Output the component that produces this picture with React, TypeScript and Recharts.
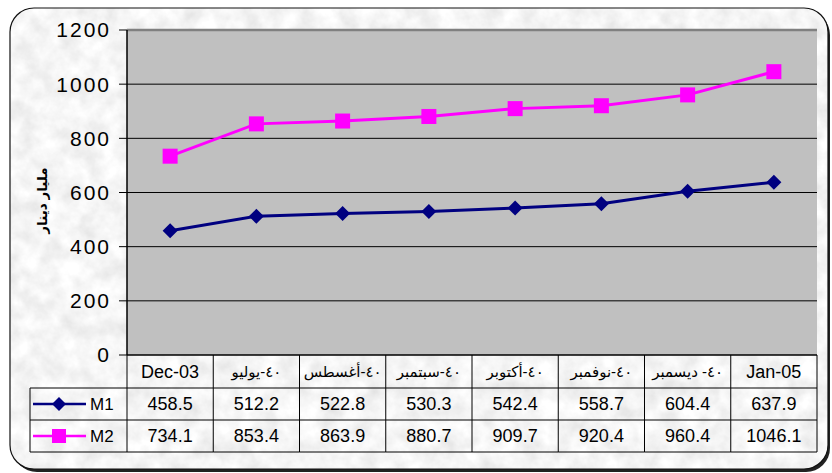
import { LineChart, Line, XAxis, YAxis, CartesianGrid, ReferenceLine } from "recharts";

// category labels (Arabic months, year 04); drawn right-to-left as in the source
const categories = [
  "Dec-03",
  "٠٤-يوليو",
  "٠٤-أغسطس",
  "٠٤-سبتمبر",
  "٠٤-أكتوبر",
  "٠٤-نوفمبر",
  "٠٤- ديسمبر",
  "Jan-05",
];
const m1 = [458.5, 512.2, 522.8, 530.3, 542.4, 558.7, 604.4, 637.9];
const m2 = [734.1, 853.4, 863.9, 880.7, 909.7, 920.4, 960.4, 1046.1];
const yTicks = [0, 200, 400, 600, 800, 1000, 1200];
const seriesNames = ["M1", "M2"];
const yLabel = "مليار دينار";

const data = categories.map((name, i) => ({ name, M1: m1[i], M2: m2[i] }));

const W = 832;
const H = 473;
const PLOT_LEFT = 127;
const PLOT_RIGHT = 817;
const PLOT_TOP = 30;
const PLOT_BOTTOM = 355;
const Y_AXIS_W = 60;
const TABLE_H = 97;
const CELL = (PLOT_RIGHT - PLOT_LEFT) / categories.length;
const ROWS = [33, 32, 32];
const LEGEND_W = 97;

const FONT = "Arial, 'Liberation Sans', 'DejaVu Sans', sans-serif";
const M1_COLOR = "#000080";
const M2_COLOR = "#ff00ff";

const isArabic = (s: string) => /[\u0600-\u06FF]/.test(s);

const Diamond = ({ cx, cy, size = 7.5 }: any) => {
  if (cx == null || cy == null) return null;
  return (
    <path
      d={`M${cx},${cy - size}L${cx + size},${cy}L${cx},${cy + size}L${cx - size},${cy}Z`}
      fill={M1_COLOR}
    />
  );
};

const Square = ({ cx, cy, size = 7.5 }: any) => {
  if (cx == null || cy == null) return null;
  return <rect x={cx - size} y={cy - size} width={size * 2} height={size * 2} fill={M2_COLOR} />;
};

function TableTick(props: any) {
  const { x, y, payload } = props;
  const i = payload?.index ?? props.index ?? 0;
  const left = x - CELL / 2;
  const right = x + CELL / 2;
  const r1 = y + ROWS[0];
  const r2 = r1 + ROWS[1];
  const r3 = r2 + ROWS[2];
  const line = { stroke: "#000", strokeWidth: 1 };
  const txt = { fontFamily: FONT, fontSize: 18, fill: "#000", textAnchor: "middle" as const, dominantBaseline: "central" as const };
  const lx = left - LEGEND_W;
  const cat = categories[i];
  const rtl = isArabic(cat);
  return (
    <g>
      {i === 0 && <line x1={left} y1={y} x2={left} y2={r3} {...line} />}
      <line x1={right} y1={y} x2={right} y2={r3} {...line} />
      <line x1={left} y1={r1} x2={right} y2={r1} {...line} />
      <line x1={left} y1={r2} x2={right} y2={r2} {...line} />
      <line x1={left} y1={r3} x2={right} y2={r3} {...line} />
      <text
        x={x}
        y={y + ROWS[0] / 2}
        {...txt}
        fontSize={rtl ? 15 : 18}
        style={rtl ? { direction: "rtl", unicodeBidi: "bidi-override" } : undefined}
      >
        {cat}
      </text>
      <text x={x} y={(r1 + r2) / 2} {...txt}>{m1[i]}</text>
      <text x={x} y={(r2 + r3) / 2} {...txt}>{m2[i]}</text>
      {i === 0 && (
        <g>
          <line x1={lx} y1={r1} x2={left} y2={r1} {...line} />
          <line x1={lx} y1={r2} x2={left} y2={r2} {...line} />
          <line x1={lx} y1={r3} x2={left} y2={r3} {...line} />
          <line x1={lx} y1={r1} x2={lx} y2={r3} {...line} />
          <line x1={lx + 3} y1={(r1 + r2) / 2} x2={left - 41} y2={(r1 + r2) / 2} stroke={M1_COLOR} strokeWidth={2.5} />
          <Diamond cx={left - 68} cy={(r1 + r2) / 2} size={7} />
          <text x={left - 37} y={(r1 + r2) / 2} {...txt} fontSize={17} textAnchor="start">{seriesNames[0]}</text>
          <line x1={lx + 3} y1={(r2 + r3) / 2} x2={left - 41} y2={(r2 + r3) / 2} stroke={M2_COLOR} strokeWidth={2.5} />
          <Square cx={left - 68} cy={(r2 + r3) / 2} size={7} />
          <text x={left - 37} y={(r2 + r3) / 2} {...txt} fontSize={17} textAnchor="start">{seriesNames[1]}</text>
        </g>
      )}
    </g>
  );
}

function AxisTitle(props: any) {
  const vb = props.viewBox || {};
  const cx = (vb.x ?? 0) - 25;
  const cy = (vb.y ?? 0) + (vb.height ?? 0) / 2 + 8;
  return (
    <text
      x={cx}
      y={cy}
      transform={`rotate(-90 ${cx} ${cy})`}
      textAnchor="middle"
      dominantBaseline="central"
      fontFamily={FONT}
      fontSize={13.5}
      fontWeight="bold"
      fill="#000"
    >
      {yLabel}
    </text>
  );
}

function Backdrop() {
  return (
    <svg width={W} height={H} style={{ position: "absolute", left: 0, top: 0 }}>
      <defs>
        <filter id="marble" x="0" y="0" width="100%" height="100%">
          <feTurbulence type="fractalNoise" baseFrequency="0.05" numOctaves="4" seed="7" result="n" />
          <feColorMatrix
            in="n"
            type="matrix"
            values="0.35 0 0 0 0.74  0.35 0 0 0 0.74  0.35 0 0 0 0.74  0 0 0 0 1"
            result="g"
          />
          <feComposite in="g" in2="SourceGraphic" operator="in" />
        </filter>
      </defs>
      <rect x={13} y={11} width={817} height={461} rx={24} fill="#222" />
      <rect x={10} y={8} width={818} height={461} rx={24} fill="#e2e2e2" filter="url(#marble)" />
      <rect x={10} y={8} width={818} height={461} rx={24} fill="none" stroke="#111" strokeWidth={1.2} />
    </svg>
  );
}

export default function App() {
  return (
    <div style={{ position: "absolute", left: 0, top: 0, width: W, height: H }}>
      <Backdrop />
      <div style={{ position: "absolute", left: 0, top: 0 }}>
        <LineChart
          width={W}
          height={H}
          data={data}
          margin={{
            top: PLOT_TOP,
            right: W - PLOT_RIGHT,
            left: PLOT_LEFT - Y_AXIS_W,
            bottom: H - PLOT_BOTTOM - TABLE_H,
          }}
        >
          <CartesianGrid vertical={false} stroke="#000" fill="#c0c0c0" fillOpacity={1} />
          <XAxis
            dataKey="name"
            interval={0}
            height={TABLE_H}
            padding={{ left: CELL / 2, right: CELL / 2 }}
            axisLine={{ stroke: "#000", strokeWidth: 1 }}
            tickLine={false}
            tickSize={0}
            tickMargin={0}
            tick={<TableTick />}
          />
          <YAxis
            width={Y_AXIS_W}
            domain={[0, 1200]}
            ticks={yTicks}
            interval={0}
            axisLine={{ stroke: "#000", strokeWidth: 1.5 }}
            tickLine={{ stroke: "#000" }}
            tickSize={8}
            tickMargin={8}
            tick={{ fill: "#000", fontSize: 21, fontFamily: FONT, letterSpacing: 2 }}
            label={<AxisTitle />}
          />
          <YAxis
            yAxisId="frame"
            orientation="right"
            width={0}
            tick={false}
            tickLine={false}
            axisLine={{ stroke: "#808080", strokeWidth: 2.5 }}
          />
          <ReferenceLine y={1200} stroke="#808080" strokeWidth={2.5} />
          <Line
            type="linear"
            dataKey="M1"
            stroke={M1_COLOR}
            strokeWidth={3}
            dot={<Diamond />}
            activeDot={false}
            isAnimationActive={false}
          />
          <Line
            type="linear"
            dataKey="M2"
            stroke={M2_COLOR}
            strokeWidth={3}
            dot={<Square />}
            activeDot={false}
            isAnimationActive={false}
          />
        </LineChart>
      </div>
    </div>
  );
}
